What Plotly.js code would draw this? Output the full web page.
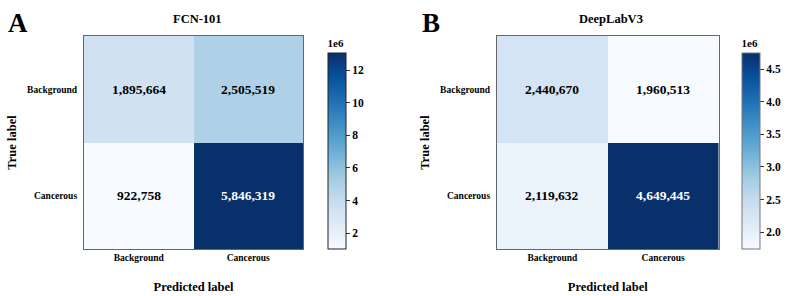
<!DOCTYPE html>
<html>
<head>
<meta charset="utf-8">
<script src="https://cdn.plot.ly/plotly-3.0.1.min.js"></script>
<style>html,body{margin:0;padding:0;background:#fff;}#chart{width:791px;height:296px;}</style>
</head>
<body>
<div id="chart"></div>
<script>
// ---- data ----
const classLabels = ['Background', 'Cancerous'];
const fcnMatrix = [[1895664, 2505519], [922758, 5846319]];
const deeplabMatrix = [[2440670, 1960513], [2119632, 4649445]];
const fcnColorbarRange = [1.03e6, 13.05e6];
const deeplabColorbarRange = [1.742e6, 4.748e6];
const fcnColorbarTicks = [2, 4, 6, 8, 10, 12];
const deeplabColorbarTicks = [2.0, 2.5, 3.0, 3.5, 4.0, 4.5];
const panelTitles = ['FCN-101', 'DeepLabV3'];
const panelLetters = ['A', 'B'];

// matplotlib Blues
const blues = [
  [0.000, '#f7fbff'], [0.125, '#deebf7'], [0.250, '#c6dbef'], [0.375, '#9ecae1'],
  [0.500, '#6baed6'], [0.625, '#4292c6'], [0.750, '#2171b5'], [0.875, '#08519c'], [1.000, '#08306b']
];
const FONT = '"Liberation Serif", "Times New Roman", serif';

function flat(m) { return m.reduce((a, r) => a.concat(r), []); }

function panel(m, xa, ya, cbRange, cbTicks, cbX, cbOutline, dec) {
  const vals = flat(m);
  const mn = Math.min(...vals), mx = Math.max(...vals);
  const heat = {
    type: 'heatmap', x: classLabels, y: classLabels, z: m,
    zmin: mn, zmax: mx, colorscale: blues, showscale: false,
    xaxis: xa, yaxis: ya, hoverinfo: 'z', xgap: 0, ygap: 0
  };
  const cb = {
    type: 'scatter', mode: 'markers', x: [null, null], y: [null, null],
    xaxis: xa, yaxis: ya, hoverinfo: 'skip', showlegend: false,
    marker: {
      color: cbRange, cmin: cbRange[0], cmax: cbRange[1], colorscale: blues, showscale: true,
      colorbar: {
        x: cbX, xanchor: 'left', xref: 'paper', thickness: 18, thicknessmode: 'pixels',
        len: 213, lenmode: 'pixels', y: (296 - 142.5) / 296, yanchor: 'middle',
        outlinecolor: cbOutline, outlinewidth: 1, ticks: 'outside', ticklen: 4, tickcolor: '#333',
        tickvals: cbTicks.map(v => v * 1e6),
        ticktext: cbTicks.map(v => '<b>' + v.toFixed(dec) + '</b>'),
        tickfont: { family: FONT, size: 11.5, color: '#000' },
        title: { text: '<b>1e6</b>', side: 'top', font: { family: FONT, size: 11, color: '#000' } },
        xpad: 0, ypad: 0
      }
    }
  };
  const anns = [];
  const thr = (mn + mx) / 2;
  m.forEach((row, i) => row.forEach((v, j) => {
    anns.push({
      x: classLabels[j], y: classLabels[i], xref: xa, yref: ya, showarrow: false,
      text: '<b>' + v.toLocaleString('en-US') + '</b>',
      font: { family: FONT, size: 13.5, color: v > thr ? '#ffffff' : '#000000' }
    });
  }));
  return { traces: [heat, cb], anns };
}

const pA = panel(fcnMatrix, 'x', 'y', fcnColorbarRange, fcnColorbarTicks, 328 / 791, '#222', 0);
const pB = panel(deeplabMatrix, 'x2', 'y2', deeplabColorbarRange, deeplabColorbarTicks, 742 / 791, '#777', 1);

function xaxis(dom) {
  return {
    domain: dom, showline: true, mirror: true, linecolor: '#666', linewidth: 1,
    showgrid: false, zeroline: false, ticks: '', fixedrange: true,
    tickfont: { family: FONT, size: 9.5, color: '#000', weight: 'bold' },
    title: { text: '<b>Predicted label</b>', font: { family: FONT, size: 12.5, color: '#000' }, standoff: 19 }
  };
}
function yaxis(dom, anchor) {
  return {
    domain: dom, anchor: anchor, autorange: 'reversed', showline: true, mirror: true, linecolor: '#666', linewidth: 1,
    showgrid: false, zeroline: false, ticks: '', fixedrange: true, ticklabelstandoff: 4,
    tickfont: { family: FONT, size: 9.5, color: '#000', weight: 'bold' },
    title: { text: '<b>True label</b>', font: { family: FONT, size: 12.5, color: '#000' }, standoff: 7 }
  };
}
const yDom = [47 / 296, 260 / 296];
function paperText(txt, px, py, size) {
  return { text: '<b>' + txt + '</b>', x: px / 791, y: 1 - py / 296, xref: 'paper', yref: 'paper',
    xanchor: 'center', yanchor: 'middle', showarrow: false, font: { family: FONT, size: size, color: '#000' } };
}
const layout = {
  width: 791, height: 296, margin: { l: 0, r: 0, t: 0, b: 0 },
  font: { family: FONT, color: '#000' },
  paper_bgcolor: '#fff', plot_bgcolor: '#fff', showlegend: false,
  xaxis: Object.assign(xaxis([84 / 791, 303 / 791]), { anchor: 'y' }),
  yaxis: yaxis(yDom, 'x'),
  xaxis2: Object.assign(xaxis([497 / 791, 718.5 / 791]), { anchor: 'y2' }),
  yaxis2: yaxis(yDom, 'x2'),
  annotations: pA.anns.concat(pB.anns).concat([
    paperText(panelTitles[0], 197, 19, 12.5),
    paperText(panelTitles[1], 611, 19, 12.5),
    paperText(panelLetters[0], 18, 23, 27),
    paperText(panelLetters[1], 431, 23, 27)
  ])
};
Plotly.newPlot('chart', pA.traces.concat(pB.traces), layout, { displayModeBar: false, staticPlot: true });
</script>
</body>
</html>
